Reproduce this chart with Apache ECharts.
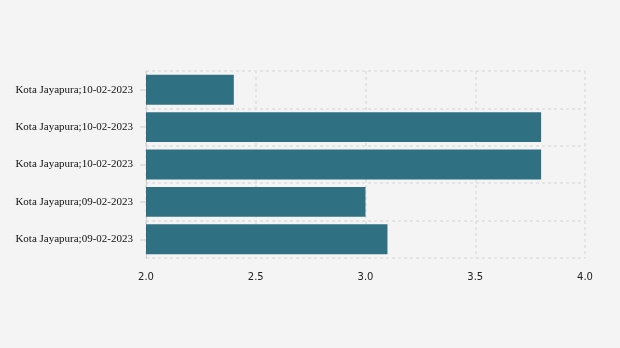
<!DOCTYPE html>
<html><head><meta charset="utf-8">
<script src="https://cdn.jsdelivr.net/npm/echarts@6/dist/echarts.min.js"></script>
<style>html,body{margin:0;padding:0;background:#f4f4f4;}#c{width:620px;height:348px;}</style>
</head><body><div id="c"></div>
<script>
const categories = ["Kota Jayapura;09-02-2023","Kota Jayapura;09-02-2023","Kota Jayapura;10-02-2023","Kota Jayapura;10-02-2023","Kota Jayapura;10-02-2023"];
const values = [3.1, 3.0, 3.8, 3.8, 2.4];
const xMin = 2.0, xMax = 4.0, xStep = 0.5;

const chart = echarts.init(document.getElementById('c'));
chart.setOption({
  backgroundColor: '#f4f4f4',
  animation: false,
  grid: {left: 146, right: 35, top: 71, bottom: 90},
  xAxis: {
    type: 'value', min: xMin, max: xMax, interval: xStep,
    axisLine: {show: false}, axisTick: {show: false},
    axisLabel: {color: '#222', fontFamily: 'DejaVu Sans', fontSize: 10, margin: 14,
      formatter: v => v.toFixed(1)},
    splitLine: {show: true, lineStyle: {color: '#dedede', type: [3, 3], width: 1.5}}
  },
  yAxis: {
    type: 'category', data: categories,
    axisLine: {show: true, lineStyle: {color: '#d0d0d0'}},
    axisTick: {show: true, alignWithLabel: true, length: 6, lineStyle: {color: '#e0e0e0', width: 2}},
    axisLabel: {color: '#111', fontFamily: 'Liberation Serif', fontSize: 11, margin: 13, padding: [2, 0, 0, 0]},
    splitLine: {show: true, interval: 0, lineStyle: {color: '#dedede', type: [3, 3], width: 1.5}}
  },
  series: [{
    type: 'bar', data: values, barWidth: '80%',
    itemStyle: {color: 'rgba(26,98,118,0.9)'}
  }]
});
</script></body></html>
